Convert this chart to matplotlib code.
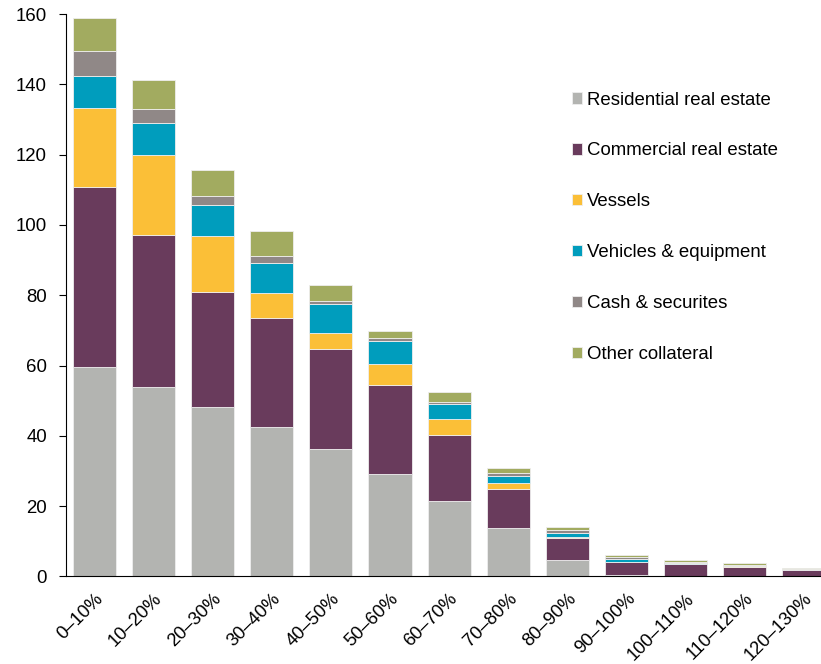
import numpy as np
import matplotlib.pyplot as plt

plt.rcParams['font.family'] = ['Liberation Sans', 'DejaVu Sans']

# categorias del eje x
categorias = ['0–10%', '10–20%', '20–30%', '30–40%', '40–50%', '50–60%', '60–70%',
              '70–80%', '80–90%', '90–100%', '100–110%', '110–120%', '120–130%']

# valores de cada serie (apiladas)
residencial = [59.6, 54.0, 48.2, 42.5, 36.3, 29.2, 21.5, 13.9, 4.8, 0.3, 0.1, 0.1, 0.1]
comercial = [51.2, 43.1, 32.8, 31.0, 28.4, 25.3, 18.7, 11.1, 6.0, 3.8, 3.3, 2.7, 1.6]
barcos = [22.4, 22.8, 15.8, 7.2, 4.5, 6.0, 4.6, 1.5, 0.3, 0.1, 0.05, 0.05, 0.02]
vehiculos = [9.2, 9.2, 8.8, 8.4, 8.2, 6.5, 4.2, 2.1, 1.3, 0.8, 0.4, 0.2, 0.1]
efectivo = [7.2, 3.9, 2.7, 2.1, 0.9, 0.8, 0.6, 0.9, 0.9, 0.5, 0.3, 0.3, 0.2]
otros = [9.2, 8.2, 7.4, 7.1, 4.6, 2.0, 2.9, 1.4, 0.75, 0.7, 0.5, 0.5, 0.4]

series = [residencial, comercial, barcos, vehiculos, efectivo, otros]
nombres = ['Residential real estate', 'Commercial real estate', 'Vessels',
           'Vehicles & equipment', 'Cash & securites', 'Other collateral']
colores = ['#b3b4b1', '#693b5c', '#fbbf37', '#009dbd', '#908887', '#a2ab60']

fig = plt.figure(figsize=(8.21, 6.64), dpi=100)
ax = fig.add_axes([0.0804, 0.1319, 0.9196, 0.847])

x = np.arange(len(categorias))
base = np.zeros(len(categorias))
for valores, nombre, color in zip(series, nombres, colores):
    ax.bar(x, valores, width=0.73, bottom=base, color=color, label=nombre,
           edgecolor='#eeeeee', linewidth=0.6)
    base = base + np.array(valores)

ax.set_xlim(-0.48, 12.29)
ax.set_ylim(0, 160)
ax.set_yticks(np.arange(0, 161, 20))
ax.set_xticks(x)
ax.set_xticklabels(categorias, rotation=45, ha='right', rotation_mode='anchor')

ax.tick_params(axis='y', labelsize=13.4, length=5, direction='out', pad=8.6)
ax.tick_params(axis='x', labelsize=13.2, length=0, pad=10)

for lado in ['top', 'right']:
    ax.spines[lado].set_visible(False)
ax.spines['left'].set_color('black')
ax.spines['bottom'].set_color('black')

ax.legend(loc='upper left', bbox_to_anchor=(0.67, 0.862), frameon=False,
          fontsize=13.4, handlelength=0.55, handleheight=0.55, handletextpad=0.25,
          labelspacing=1.82, borderpad=0, borderaxespad=0)

plt.savefig('out.png', dpi=100)
